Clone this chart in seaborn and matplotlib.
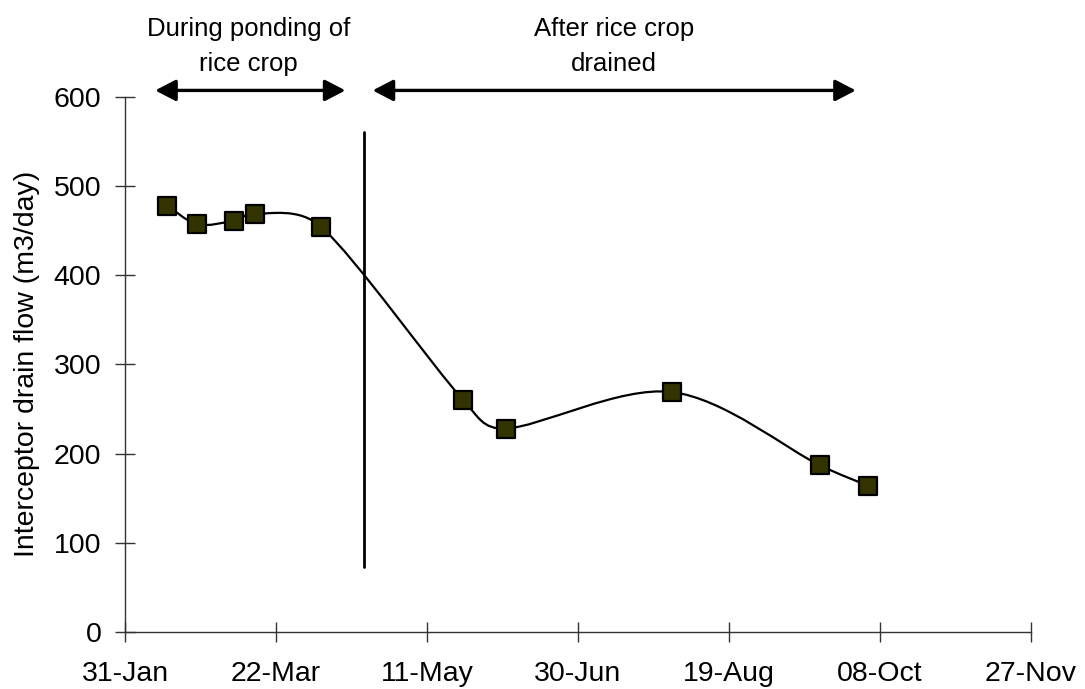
import numpy as np
import pandas as pd
import matplotlib
matplotlib.use("Agg")
import matplotlib.pyplot as plt
import matplotlib.dates as mdates
from matplotlib.path import Path
from matplotlib.patches import PathPatch
import seaborn as sns

# Interceptor drain flow measurements
sample_dates = ["2001-02-14", "2001-02-24", "2001-03-08", "2001-03-15", "2001-04-06",
                "2001-05-23", "2001-06-06", "2001-07-31", "2001-09-18", "2001-10-04"]
flow_m3_day = [478, 457, 461, 469, 454, 260, 228, 269, 187, 164]

# Axis ticks
tick_dates = ["2001-01-31", "2001-03-22", "2001-05-11", "2001-06-30",
              "2001-08-19", "2001-10-08", "2001-11-27"]
y_ticks = [0, 100, 200, 300, 400, 500, 600]

# Crop periods and the drainage date
drain_date = "2001-04-20"
drain_line_range = [73, 560]
ponding_period = ["2001-02-10", "2001-04-14"]
drained_period = ["2001-04-23", "2001-09-30"]
period_labels = ["During ponding of\nrice crop", "After rice crop\ndrained"]
period_label_dates = ["2001-03-13", "2001-07-12"]
arrow_level = 607
label_level = 656

df = pd.DataFrame({"date": pd.to_datetime(sample_dates), "flow": flow_m3_day})

sns.set_theme(style="white")
plt.rcParams["font.family"] = ["Liberation Sans", "DejaVu Sans"]
plt.rcParams["text.color"] = "black"
plt.rcParams["axes.labelcolor"] = "black"
plt.rcParams["xtick.color"] = "black"
plt.rcParams["ytick.color"] = "black"

fig = plt.figure(figsize=(10.85, 6.89), dpi=100)
ax = fig.add_axes([0.1152, 0.0827, 0.835, 0.777])

ax.set_xlim(pd.to_datetime(tick_dates[0]), pd.to_datetime(tick_dates[-1]))
ax.set_ylim(0, 600)

# Smoothed connecting line: cubic Beziers through the points, built in pixel
# space with control arms limited by the neighbouring segment length.
xs = mdates.date2num(df["date"])
ys = np.asarray(flow_m3_day, dtype=float)
pix = ax.transData.transform(np.column_stack([xs, ys]))
n = len(pix)


def tangent(i):
    a = pix[i - 1] if i > 0 else pix[i]
    b = pix[i + 1] if i + 1 < n else pix[i]
    return (b - a) / 6.0


def limited(vec, seg_len, ratio=0.45):
    length = np.hypot(*vec)
    cap = seg_len * ratio
    return vec * (cap / length) if length > cap else vec


verts = [pix[0]]
codes = [Path.MOVETO]
for i in range(n - 1):
    p0, p1 = pix[i], pix[i + 1]
    seg = np.hypot(*(p1 - p0))
    c1 = p0 + limited(tangent(i), seg)
    c2 = p1 - limited(tangent(i + 1), seg)
    verts += [c1, c2, p1]
    codes += [Path.CURVE4] * 3
data_verts = ax.transData.inverted().transform(np.array(verts))
ax.add_patch(PathPatch(Path(data_verts, codes), fill=False, edgecolor="black",
                       lw=1.6, zorder=2))

sns.scatterplot(data=df, x="date", y="flow", marker="s", s=150, color="#333300",
                edgecolor="black", linewidth=1.6, zorder=3, ax=ax, legend=False)

# Drainage divider
ax.plot(pd.to_datetime([drain_date, drain_date]), drain_line_range, color="black",
        lw=2, zorder=2)

# Period arrows and labels above the plot
for period, label, lx in zip([ponding_period, drained_period], period_labels,
                             period_label_dates):
    d0, d1 = pd.to_datetime(period)
    ax.annotate("", xy=(d1, arrow_level), xytext=(d0, arrow_level), xycoords="data",
                annotation_clip=False,
                arrowprops=dict(arrowstyle="<|-|>,head_length=1.25,head_width=0.65",
                                mutation_scale=10, lw=2.4, color="black",
                                shrinkA=0, shrinkB=0))
    ax.text(pd.to_datetime(lx), label_level, label, ha="center", va="center",
            fontsize=18.5, linespacing=1.55, clip_on=False, color="black")

ax.set_xticks(pd.to_datetime(tick_dates))
ax.xaxis.set_major_formatter(mdates.DateFormatter("%d-%b"))
ax.set_yticks(y_ticks)

ax.set_xlabel("")
ax.set_ylabel("Interceptor drain flow (m3/day)", fontsize=20.5, labelpad=10)

for side in ["top", "right"]:
    ax.spines[side].set_visible(False)
for side in ["left", "bottom"]:
    ax.spines[side].set_color("#333333")
    ax.spines[side].set_linewidth(1.0)

ax.tick_params(axis="both", which="major", direction="inout", length=14, width=1.0,
               color="#333333", labelsize=20.5, left=True, bottom=True)
ax.tick_params(axis="x", pad=14)
ax.tick_params(axis="y", pad=10)

fig.savefig("out.png", dpi=100, facecolor="white")
